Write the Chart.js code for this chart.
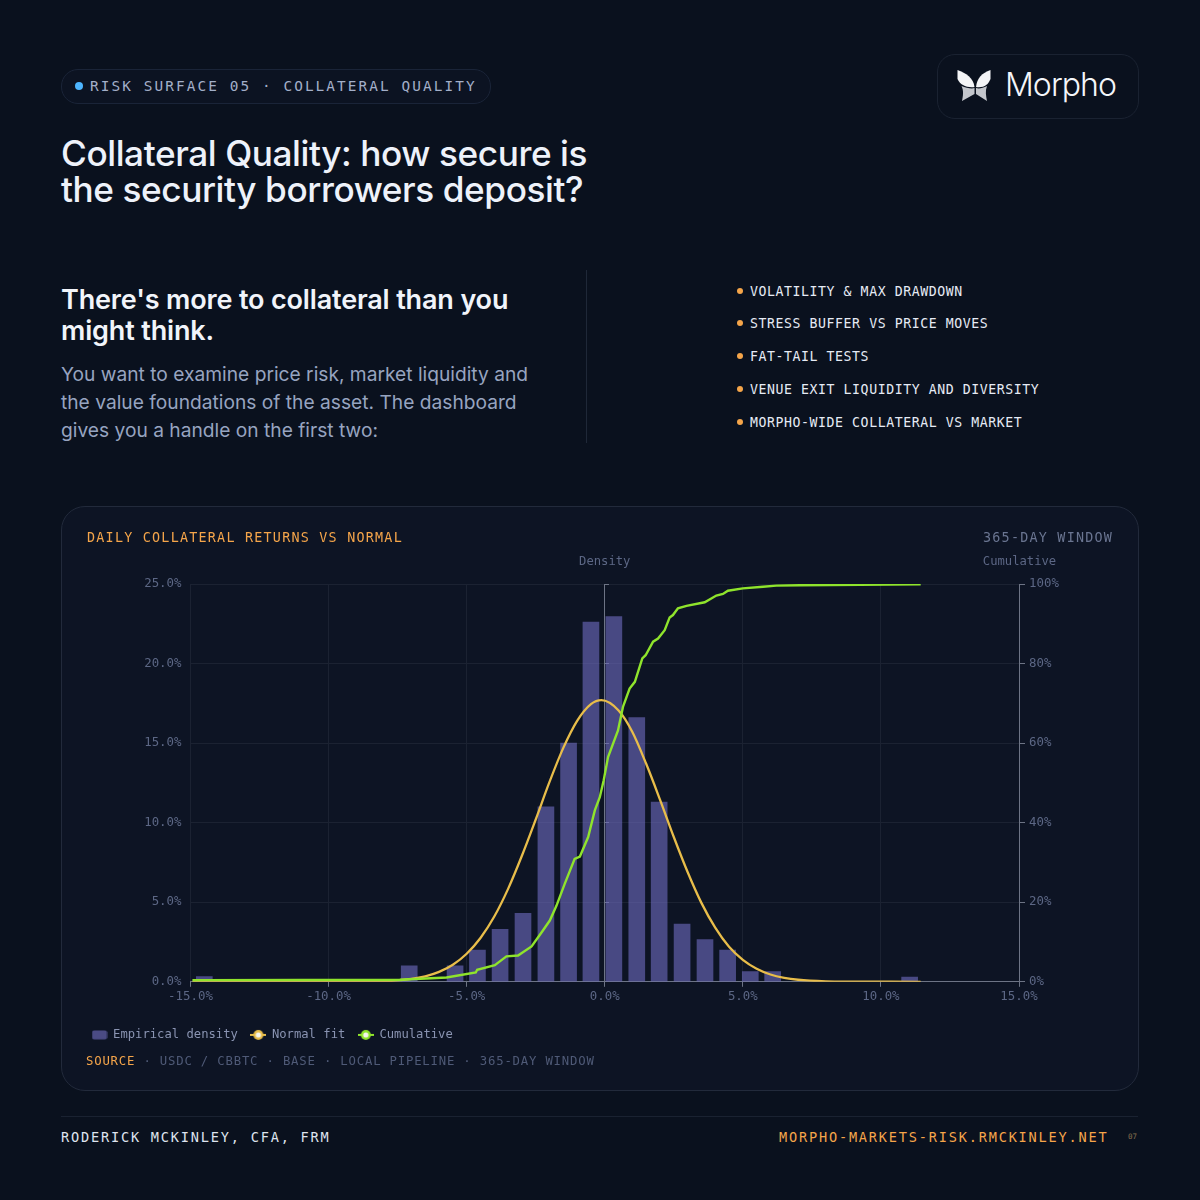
<!DOCTYPE html>
<html>
<head>
<meta charset="utf-8">
<title>Collateral Quality</title>
<script src="https://cdn.jsdelivr.net/npm/chart.js@4/dist/chart.umd.min.js"></script>
<style>
  html, body { margin: 0; padding: 0; background: #0a111e; }
  #page { position: relative; width: 1200px; height: 1200px; overflow: hidden; background: #0a111e; font-family: Inter, sans-serif; }
  #page div, #page span.t { position: absolute; white-space: nowrap; }
  .mono { font-family: "DejaVu Sans Mono", monospace; }
  .dot { width: 6px; height: 6px; border-radius: 50%; background: #f5a54a; left: 737px; }
  .item { left: 750px; font-size: 13.2px; letter-spacing: 0.57px; line-height: 16px; color: #e6ebf5; }
</style>
</head>
<body>
<div id="page">
  <div style="left:61px;top:69px;width:428px;height:33px;border:1px solid #1a2438;border-radius:17px;background:#0c1322"></div>
  <div style="left:75px;top:82px;width:8px;height:8px;border-radius:50%;background:#4db5ff"></div>
  <div class="mono" style="left:90px;top:77px;font-size:14.4px;line-height:18px;letter-spacing:2.08px;color:#a3afc9">RISK SURFACE 05 · COLLATERAL QUALITY</div>

  <div style="left:937px;top:54px;width:200px;height:63px;border:1px solid #1a2231;border-radius:18px"></div>
  <svg style="position:absolute;left:0;top:0" width="1200" height="130">
    <path d="M957.500 70 C966 73 973.500 78 974.500 87 C967 88 960 85 957.500 79 Z" fill="#f4f5f7"/>
    <path d="M990.500 70 C982 73 977 78 976 87 C984 88 988 85 990.500 79 Z" fill="#f4f5f7"/>
    <path d="M961.500 86 C966 88 972 89 974.500 88 L974.500 94 L962 101 C963 96 964 91 961.500 86 Z" fill="#c3c6cc"/>
    <path d="M987 86 C983 88 979 89 976 88 L976 94 L987 101 C986 96 985 91 987 86 Z" fill="#c3c6cc"/>
  </svg>
  <div style="left:1005px;top:64px;font-size:32px;line-height:42px;font-weight:300;letter-spacing:-0.95px;color:#f4f6fa">Morpho</div>

  <div style="left:61px;top:135px;font-size:35.2px;line-height:36px;font-weight:500;letter-spacing:-0.42px;color:#eef2fa">Collateral Quality: how secure is<br>the security borrowers deposit?</div>

  <div style="left:61px;top:284px;font-size:27px;line-height:31px;font-weight:600;letter-spacing:-0.15px;color:#f1f4fa">There's more to collateral than you<br>might think.</div>
  <div style="left:61px;top:360px;font-size:19.2px;line-height:28px;color:#97a4c0">You want to examine price risk, market liquidity and<br>the value foundations of the asset. The dashboard<br>gives you a handle on the first two:</div>
  <div style="left:586px;top:270px;width:1px;height:173px;background:#1f2838"></div>

  <div class="dot" style="top:288px"></div><div class="mono item" style="top:284px">VOLATILITY &amp; MAX DRAWDOWN</div>
  <div class="dot" style="top:320px"></div><div class="mono item" style="top:316px">STRESS BUFFER VS PRICE MOVES</div>
  <div class="dot" style="top:353px"></div><div class="mono item" style="top:349px">FAT-TAIL TESTS</div>
  <div class="dot" style="top:386px"></div><div class="mono item" style="top:382px">VENUE EXIT LIQUIDITY AND DIVERSITY</div>
  <div class="dot" style="top:419px"></div><div class="mono item" style="top:415px">MORPHO-WIDE COLLATERAL VS MARKET</div>

  <div style="left:61px;top:506px;width:1076px;height:583px;border:1px solid #222a3b;border-radius:24px;background:#0d1424"></div>
  <div style="left:61px;top:506px;width:1077px;height:584px"><canvas id="chart" width="1077" height="584" style="display:block;width:1077px;height:584px"></canvas></div>
  <div class="mono" style="left:87px;top:529px;font-size:13.400px;line-height:17px;letter-spacing:1.23px;color:#f5a54a">DAILY COLLATERAL RETURNS VS NORMAL</div>
  <div class="mono" style="left:983px;top:529px;font-size:13.400px;line-height:17px;letter-spacing:1.23px;color:#6a7591">365-DAY WINDOW</div>
  <div class="mono" style="left:86px;top:1053px;font-size:12.300px;line-height:16px;letter-spacing:0.8px;color:#4f5a77"><span style="color:#f5a54a">SOURCE</span> · USDC / CBBTC · BASE · LOCAL PIPELINE · 365-DAY WINDOW</div>

  <div style="left:61px;top:1116px;width:1077px;height:1px;background:#1a2231"></div>
  <div class="mono" style="left:61px;top:1128px;font-size:13.600px;line-height:18px;letter-spacing:1.8px;color:#dfe4ef">RODERICK MCKINLEY, CFA, FRM</div>
  <div class="mono" style="left:779px;top:1128px;font-size:13.600px;line-height:18px;letter-spacing:1.8px;color:#f5a54a">MORPHO-MARKETS-RISK.RMCKINLEY.NET</div>
  <div class="mono" style="left:1128px;top:1132px;font-size:7.500px;line-height:10px;color:#8a7350">07</div>
</div>

<script>
// histogram bins
var binCenters = [-14.5, -7.08, -5.42, -4.61, -3.79, -2.96, -2.13, -1.31, -0.5, 0.33, 1.16, 1.97, 2.8, 3.63, 4.45, 5.27, 6.08, 11.04];
var densityValues = [0.33, 1.0, 1.0, 2.0, 3.3, 4.3, 11.0, 15.0, 22.6, 22.95, 16.6, 11.3, 3.63, 2.65, 2.0, 0.65, 0.65, 0.3];

// normal fit
var normalX = [-14.93, -10, -8, -7, -6.5, -6, -5.5, -5, -4.5, -4, -3.5, -3, -2.5, -2, -1.5, -1, -0.5, -0.12, 0.5, 1, 1.5, 2, 2.5, 3, 3.5, 4, 4.5, 5, 5.5, 6, 6.5, 7, 8, 9, 11.44];
var normalValues = [0, 0.01, 0.04, 0.18, 0.34, 0.62, 1.07, 1.76, 2.75, 4.1, 5.84, 7.92, 10.2, 12.56, 14.7, 16.4, 17.45, 17.7, 17.05, 15.7, 13.7, 11.45, 9.1, 6.9, 4.96, 3.4, 2.2, 1.38, 0.82, 0.46, 0.25, 0.13, 0.03, 0.01, 0];

// cumulative line
var cumulativeX = [-14.93, -14.5, -7.42, -5.73, -4.67, -4.62, -3.98, -3.56, -3.14, -2.65, -2.29, -1.99, -1.75, -1.45, -1.09, -0.9, -0.6, -0.36, -0.18, -0.04, 0.12, 0.48, 0.66, 0.9, 1.09, 1.36, 1.48, 1.75, 1.93, 2.17, 2.35, 2.47, 2.65, 2.96, 3.62, 4.04, 4.28, 4.46, 5.0, 5.73, 6.21, 7.06, 11.44];
var cumulativeValues = [0.4, 0.42, 0.5, 1.09, 2.35, 3.02, 4.2, 6.4, 6.6, 8.9, 12.4, 15.4, 19.1, 24.6, 30.9, 31.5, 36.4, 43.1, 46.4, 50.6, 56.5, 63.2, 69.1, 73.7, 75.4, 81.3, 82.1, 85.5, 86.3, 88.4, 91.6, 92.2, 93.9, 94.5, 95.4, 97.1, 97.5, 98.3, 98.9, 99.3, 99.6, 99.7, 99.9];

var seriesNames = ["Empirical density", "Normal fit", "Cumulative"];

function toPoints(xs, ys) {
    return xs.map(function (x, i) { return { x: x, y: ys[i] }; });
}

// small canvases used as legend icons
function barIcon() {
    var c = document.createElement("canvas");
    c.width = 16; c.height = 10;
    var g = c.getContext("2d");
    g.fillStyle = "#4a4b84";
    g.beginPath();
    g.roundRect(0.5, 0.5, 15, 9, 2);
    g.fill();
    return c;
}
function lineIcon(color) {
    var c = document.createElement("canvas");
    c.width = 16; c.height = 12;
    var g = c.getContext("2d");
    g.strokeStyle = color;
    g.lineWidth = 2;
    g.beginPath();
    g.moveTo(0, 6); g.lineTo(16, 6);
    g.stroke();
    g.fillStyle = color;
    g.beginPath(); g.arc(8, 6, 5, 0, Math.PI * 2); g.fill();
    g.fillStyle = "#f6f6ee";
    g.beginPath(); g.arc(8, 6, 2.6, 0, Math.PI * 2); g.fill();
    return c;
}

var axisNames = {
    id: "axisNames",
    afterDraw: function (chart) {
        var ctx = chart.ctx;
        ctx.save();
        ctx.font = '12.2px "DejaVu Sans Mono"';
        ctx.fillStyle = "#5c6785";
        ctx.textAlign = "center";
        ctx.textBaseline = "middle";
        ctx.fillText("Density", chart.scales.x.getPixelForValue(0), chart.chartArea.top - 22);
        ctx.fillText("Cumulative", chart.chartArea.right + 0.5, chart.chartArea.top - 22);
        ctx.restore();
    }
};

var tickFont = { family: '"DejaVu Sans Mono"', size: 12.4 };
var tickColor = "#5c6785";
var faint = "#1b2232";
var axisGray = "#6d7485";

var icons = [barIcon(), lineIcon("#e8bd4a"), lineIcon("#8fe42c")];

new Chart(document.getElementById("chart").getContext("2d"), {
    data: {
        datasets: [{
            type: "bar",
            label: seriesNames[0],
            data: toPoints(binCenters, densityValues),
            backgroundColor: "rgba(110,107,190,0.62)",
            barThickness: 16,
            xAxisID: "x",
            yAxisID: "y",
            order: 3
        }, {
            type: "line",
            label: seriesNames[1],
            data: toPoints(normalX, normalValues),
            borderColor: "#e8bd4a",
            borderWidth: 2.3,
            pointRadius: 0,
            cubicInterpolationMode: "monotone",
            xAxisID: "x",
            yAxisID: "y",
            order: 2
        }, {
            type: "line",
            label: seriesNames[2],
            data: toPoints(cumulativeX, cumulativeValues),
            borderColor: "#8fe42c",
            borderWidth: 2.4,
            pointRadius: 0,
            tension: 0,
            xAxisID: "x",
            yAxisID: "y1",
            order: 1
        }]
    },
    options: {
        responsive: false,
        animation: false,
        layout: { padding: { left: 18, right: 0, top: 78, bottom: 39 } },
        plugins: {
            tooltip: { enabled: false },
            legend: {
                position: "bottom",
                align: "start",
                labels: {
                    usePointStyle: true,
                    pointStyleWidth: 15,
                    padding: 13,
                    color: "#8a94b2",
                    font: { family: '"DejaVu Sans Mono"', size: 12.2 },
                    generateLabels: function () {
                        return seriesNames.map(function (name, i) {
                            return { text: name, fontColor: "#8a94b2", pointStyle: icons[i], datasetIndex: i, hidden: false, lineWidth: 0 };
                        });
                    }
                }
            }
        },
        scales: {
            x: {
                type: "linear",
                min: -15,
                max: 15,
                offset: false,
                border: { color: axisGray },
                grid: { color: faint, tickColor: axisGray, tickLength: 5, offset: false },
                ticks: {
                    stepSize: 5,
                    color: tickColor,
                    font: tickFont,
                    padding: 3,
                    maxRotation: 0,
                    callback: function (v) { return v.toFixed(1) + "%"; }
                },
                afterFit: function (s) { s.height = 34; }
            },
            y: {
                position: "left",
                min: 0,
                max: 25,
                border: { display: false },
                grid: { color: faint, drawTicks: false },
                ticks: {
                    stepSize: 5,
                    color: tickColor,
                    font: tickFont,
                    padding: 9,
                    callback: function (v) { return v.toFixed(1) + "%"; }
                },
                afterFit: function (s) { s.width = 111.5; }
            },
            // axis line with tick marks sitting on x = 0
            yZero: {
                axis: "y",
                position: { x: 0 },
                min: 0,
                max: 25,
                border: { color: axisGray },
                grid: { drawOnChartArea: false, tickColor: axisGray, tickLength: -5 },
                ticks: { stepSize: 5, display: false }
            },
            y1: {
                position: "right",
                min: 0,
                max: 100,
                border: { color: axisGray },
                grid: { drawOnChartArea: false, tickColor: axisGray, tickLength: 6 },
                ticks: {
                    stepSize: 20,
                    color: tickColor,
                    font: tickFont,
                    padding: 4,
                    callback: function (v) { return v + "%"; }
                },
                afterFit: function (s) { s.width = 119; }
            }
        }
    },
    plugins: [axisNames]
});
</script>
</body>
</html>
